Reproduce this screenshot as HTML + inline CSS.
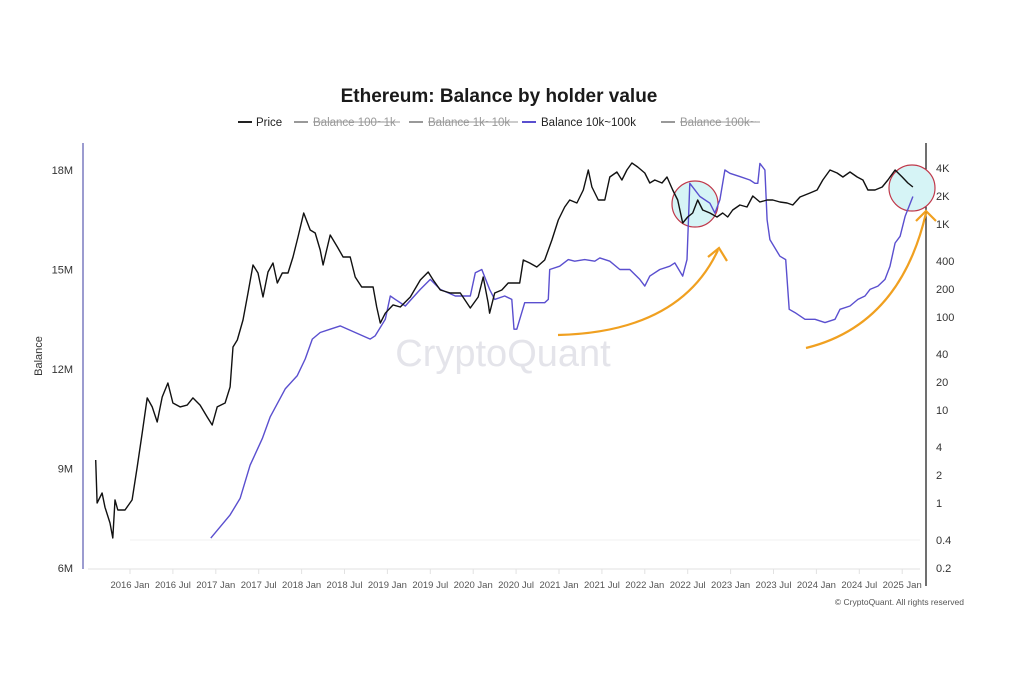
<!DOCTYPE html>
<html><head><meta charset="utf-8"><style>
html,body{margin:0;padding:0;background:#fff;}
svg{display:block;font-family:"Liberation Sans",sans-serif;}
</style></head><body>
<svg id="chart" width="1021" height="690" viewBox="0 0 1021 690" xmlns="http://www.w3.org/2000/svg">
<rect width="1021" height="690" fill="#fff"/>
<text x="499" y="102" text-anchor="middle" font-size="19" font-weight="bold" fill="#1a1a1a">Ethereum: Balance by holder value</text>
<g font-size="11.5">
 <g><line x1="238" y1="122" x2="252" y2="122" stroke="#222" stroke-width="2"/><text x="256" y="126" fill="#222">Price</text></g>
 <g><line x1="294" y1="122" x2="308" y2="122" stroke="#999" stroke-width="2"/><text x="313" y="126" fill="#999">Balance 100~1k</text><line x1="313" y1="122" x2="400" y2="122" stroke="#999"/></g>
 <g><line x1="409" y1="122" x2="423" y2="122" stroke="#999" stroke-width="2"/><text x="428" y="126" fill="#999">Balance 1k~10k</text><line x1="428" y1="122" x2="518" y2="122" stroke="#999"/></g>
 <g><line x1="522" y1="122" x2="536" y2="122" stroke="#5a4fcf" stroke-width="2"/><text x="541" y="126" fill="#222">Balance 10k~100k</text></g>
 <g><line x1="661" y1="122" x2="675" y2="122" stroke="#999" stroke-width="2"/><text x="680" y="126" fill="#999">Balance 100k~</text><line x1="680" y1="122" x2="760" y2="122" stroke="#999"/></g>
</g>
<text x="503" y="366" text-anchor="middle" font-size="38" fill="#e4e4ea">CryptoQuant</text>
<line x1="130" y1="540" x2="920" y2="540" stroke="#f0f0f0"/>
<line x1="83" y1="143" x2="83" y2="569" stroke="#5b5bb0" stroke-width="1.2"/>
<line x1="926" y1="143" x2="926" y2="586" stroke="#111" stroke-width="1.2"/>
<line x1="88" y1="569" x2="920" y2="569" stroke="#e2e2e2"/>
<text transform="translate(42,356) rotate(-90)" text-anchor="middle" font-size="11" fill="#333">Balance</text>
<g id="leftTicks"></g>
<g id="rightTicks"></g>
<g id="xTicks"></g>
<circle cx="695" cy="204" r="23" fill="#d6f4f6" stroke="#c0394b" stroke-width="1.2"/>
<circle cx="912" cy="188" r="23" fill="#d6f4f6" stroke="#c0394b" stroke-width="1.2"/>
<g id="series"></g>
<g>
 <path d="M558,335 Q680,332 718,250" fill="none" stroke="#f0a020" stroke-width="2.2"/>
 <path d="M708,257 L719,248 L727,261" fill="none" stroke="#f0a020" stroke-width="2.2"/>
 <path d="M806,348 Q900,325 926,213" fill="none" stroke="#f0a020" stroke-width="2.2"/>
 <path d="M916,221 L926,211 L936,221" fill="none" stroke="#f0a020" stroke-width="2.2"/>
</g>
<text x="964" y="605" text-anchor="end" font-size="8.5" fill="#555">© CryptoQuant. All rights reserved</text>
</svg>
<script>
const leftTickValues=[6,9,12,15,18];
const leftTickLabels=["6M","9M","12M","15M","18M"];
const rightTickValues=[0.2,0.4,1,2,4,10,20,40,100,200,400,1000,2000,4000];
const rightTickLabels=["0.2","0.4","1","2","4","10","20","40","100","200","400","1K","2K","4K"];
const xTickMonths=[0,6,12,18,24,30,36,42,48,54,60,66,72,78,84,90,96,102,108];
const xTickLabels=["2016 Jan","2016 Jul","2017 Jan","2017 Jul","2018 Jan","2018 Jul","2019 Jan","2019 Jul","2020 Jan","2020 Jul","2021 Jan","2021 Jul","2022 Jan","2022 Jul","2023 Jan","2023 Jul","2024 Jan","2024 Jul","2025 Jan"];
const priceMonths=[-4.8,-4.6,-3.9,-3.5,-2.8,-2.4,-2.1,-1.7,-0.7,0.3,1,1.7,2.4,3.1,3.8,4.5,5.3,6,7,8,8.8,9.8,10.8,11.5,12.2,13.3,14,14.4,15,15.8,16.5,17.2,17.9,18.6,19.3,20,20.6,21.3,22.1,22.8,23.5,24.3,25.2,25.9,26.6,27,28,29,29.8,30.8,31.5,32.4,34,34.5,35,35.7,36.8,37.8,39.2,40.6,41.7,42.4,43.4,44.8,46.2,47.6,48.7,49.4,50.1,50.3,51,52,52.9,53.8,54.5,55,55.9,56.9,58,59,59.9,60.8,61.5,62.5,63.4,64.1,64.6,65.5,66.4,67.1,68.1,68.8,69.5,70.2,71,72,72.7,73.4,74.4,75.1,75.9,76.6,77.3,78,78.7,79.4,80.1,81.1,82.1,82.9,83.6,84.3,85.3,86.3,87.1,88.1,89.1,89.9,90.9,91.9,92.7,93.7,95.1,96.1,96.9,97.9,98.9,99.7,100.7,101.7,102.5,103.2,104.2,105.2,106,107,108,108.8,109.5];
const priceValues=[2.9,1.0,1.28,0.9,0.61,0.42,1.08,0.84,0.84,1.08,2.44,5.66,13.5,10.8,7.43,13.8,19.5,11.9,10.8,11.3,13.5,11.3,8.4,6.9,10.8,11.9,17.7,47.6,56.6,92.9,181,362,297,164,305,381,232,297,297,442,725,1313,861,800,525,362,762,566,442,442,269,210,210,128,86,110,135,128,164,250,305,250,195,181,181,125,164,269,141,110,181,195,232,232,232,410,381,345,410,673,1105,1523,1811,1683,2321,3808,2500,1811,1811,3200,3622,2972,3808,4527,4100,3535,2760,2972,2760,3200,2321,1811,1025,1190,1313,1811,1415,1313,1190,1313,1190,1415,1600,1523,2000,1726,1811,1811,1726,1683,1600,1950,2155,2321,2972,3808,3535,3200,3622,3200,2972,2321,2321,2500,2972,3808,3200,2760,2500];
const balMonths=[11.3,14,15.4,16.8,18.5,19.6,21.7,23.4,24.5,25.5,26.6,28,29.4,31.5,33.6,34.3,35.7,36.4,37.1,38.5,40.6,42,43.4,45.5,47.6,48.3,49.2,50.3,51,52.4,53.4,53.7,54.1,55.2,56.6,58,58.5,58.7,60.1,61.3,62.2,63.6,65,65.7,67.1,68.5,69.9,71.3,72,72.7,74.1,75.5,76.2,77.3,77.9,78.3,79,79.7,81.1,81.8,82.5,83.2,83.9,85.3,86.7,87.4,87.8,88.1,88.8,89.1,89.5,90.9,91.7,92.2,93,94.4,95.8,97.2,98.6,99.3,100.7,101.8,102.8,103.5,104.6,105.6,106.3,107,107.7,108.4,109.5];
const balValues=[6.9,7.6,8.1,9.1,9.9,10.55,11.4,11.8,12.3,12.9,13.1,13.2,13.3,13.1,12.9,13.0,13.5,14.2,14.1,13.9,14.4,14.7,14.4,14.2,14.2,14.9,15.0,14.4,14.1,14.2,14.1,13.2,13.2,14.0,14.0,14.0,14.1,15.0,15.1,15.3,15.25,15.3,15.25,15.35,15.25,15.0,15.0,14.7,14.5,14.8,15.0,15.1,15.2,14.8,15.3,17.6,17.4,17.2,17.0,16.7,17.1,18.0,17.9,17.8,17.7,17.6,17.6,18.2,18.0,16.5,15.9,15.4,15.3,13.8,13.7,13.5,13.5,13.4,13.5,13.8,13.9,14.1,14.2,14.4,14.5,14.7,15.1,15.8,16.0,16.6,17.2];
const NS="http://www.w3.org/2000/svg";
const xScale=m=>130+7.15*m;
const yLeft=v=>568-(v-6)*99.5/3;
const yRight=v=>503-93*Math.log10(v);
const lt=document.getElementById('leftTicks'),rt=document.getElementById('rightTicks'),xt=document.getElementById('xTicks'),sr=document.getElementById('series');
function txt(g,x,y,s,anchor){const t=document.createElementNS(NS,'text');t.setAttribute('x',x);t.setAttribute('y',y);t.setAttribute('font-size','11');t.setAttribute('fill','#333');t.setAttribute('text-anchor',anchor);t.textContent=s;g.appendChild(t);return t;}
leftTickValues.forEach((v,i)=>{const t=txt(lt,73,yLeft(v)+4,leftTickLabels[i],'end');

});
rightTickValues.forEach((v,i)=>{const t=txt(rt,936,yRight(v)+4,rightTickLabels[i],'start');

});
xTickMonths.forEach((m,i)=>{const t=txt(xt,xScale(m),588,xTickLabels[i],'middle');t.setAttribute('font-size','9.5');t.setAttribute('fill','#555');


const l=document.createElementNS(NS,'line');l.setAttribute('x1',xScale(m));l.setAttribute('x2',xScale(m));l.setAttribute('y1',569);l.setAttribute('y2',574);l.setAttribute('stroke','#e2e2e2');


xt.appendChild(l);});
function line(xs,ys,fy,color,name){const p=document.createElementNS(NS,'path');p.setAttribute('d',xs.map((m,i)=>(i?'L':'M')+xScale(m).toFixed(1)+','+fy(ys[i]).toFixed(1)).join(''));p.setAttribute('fill','none');p.setAttribute('stroke',color);p.setAttribute('stroke-width','1.4');p.setAttribute('stroke-linejoin','round');


sr.appendChild(p);}
line(balMonths,balValues,yLeft,'#5a4fcf','balance-10k-100k-line');
line(priceMonths,priceValues,yRight,'#111','price-line');
</script>
</body></html>
